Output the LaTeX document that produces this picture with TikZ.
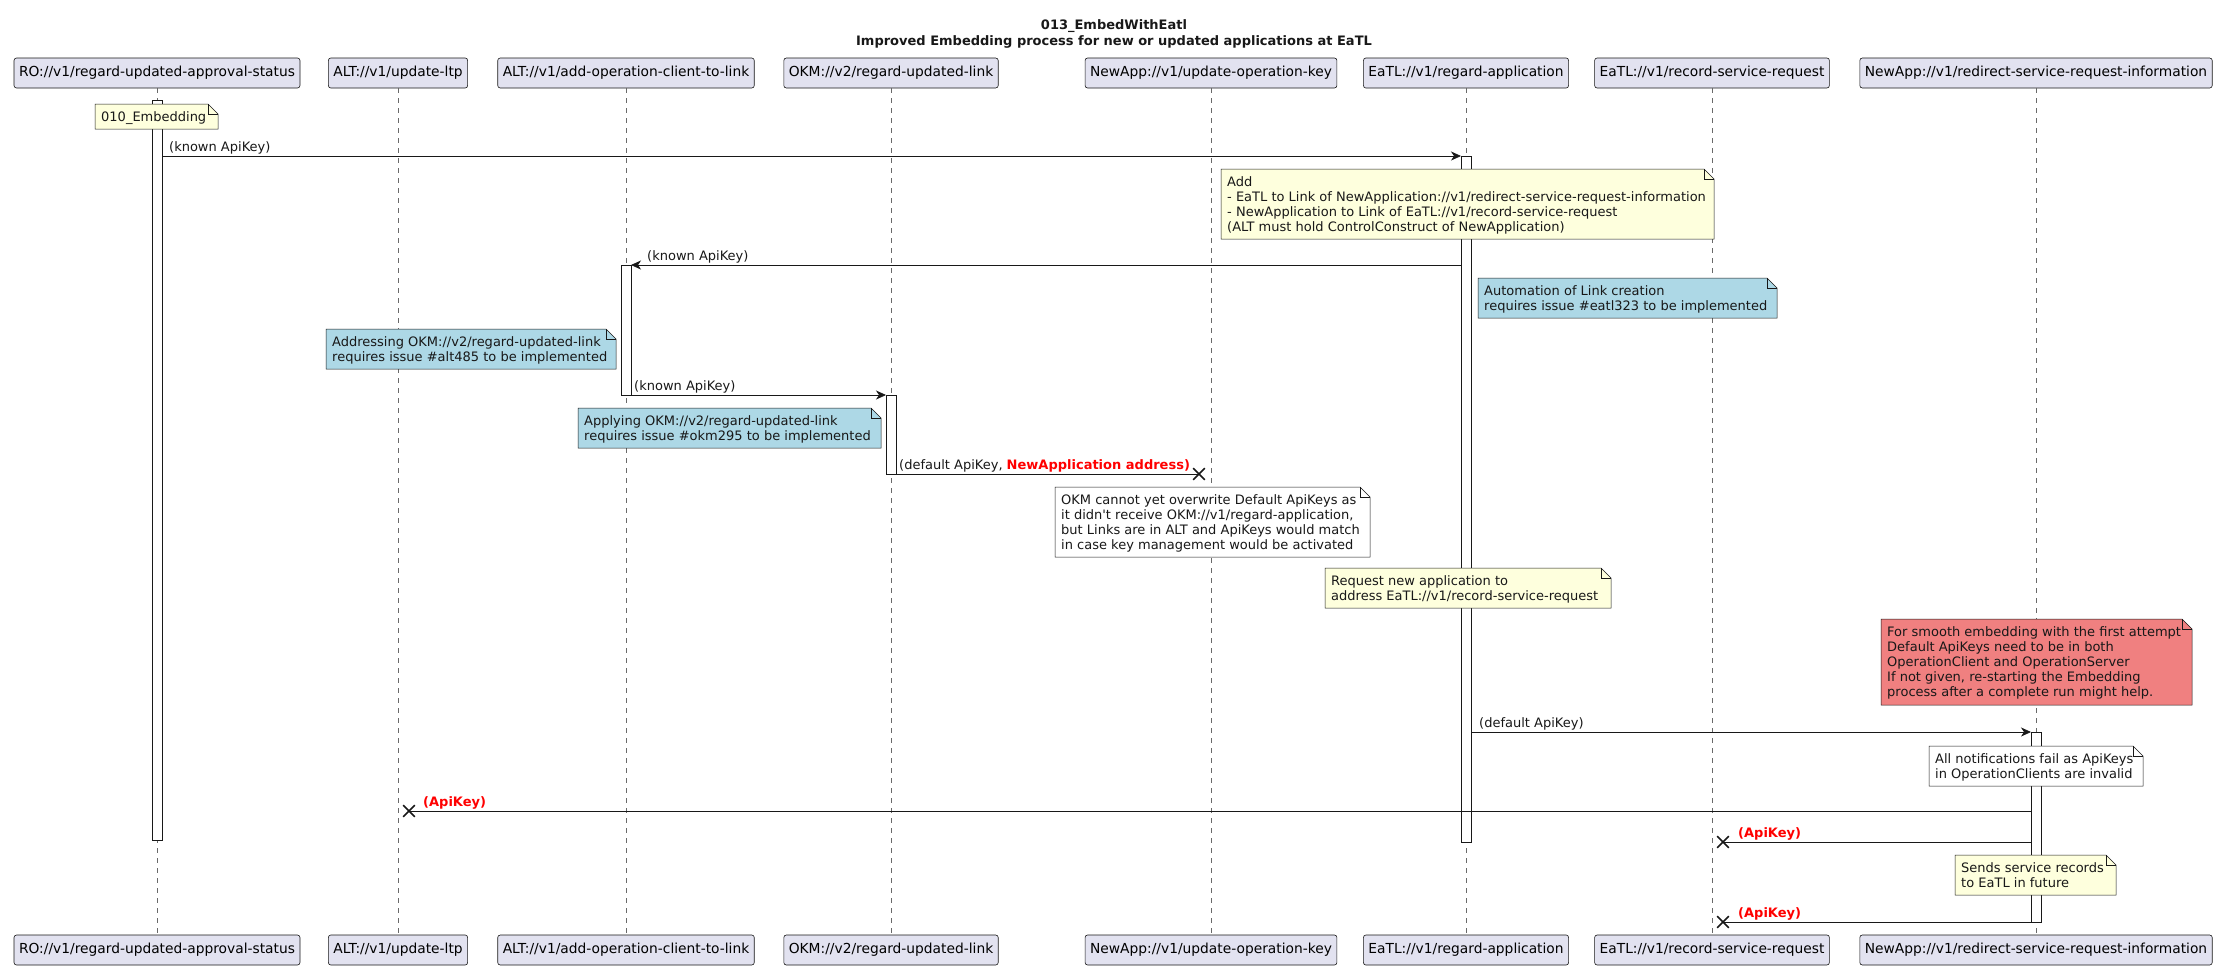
\documentclass[tikz,border=0pt]{standalone}
\usepackage{fontspec}
\setmainfont{DejaVu Sans}
\usetikzlibrary{arrows.meta,shapes.misc}
\definecolor{ink}{HTML}{181818}
\definecolor{partfill}{HTML}{E2E2F0}
\definecolor{noteyellow}{HTML}{FEFFDD}
\definecolor{noteblue}{HTML}{ADD8E6}
\definecolor{notered}{HTML}{F08080}
\definecolor{msgred}{HTML}{FF0000}
\tikzset{
  part/.style={draw=ink, line width=0.6pt, fill=partfill, rounded corners=2.5pt,
    minimum height=30pt, inner xsep=5pt, inner ysep=0pt, font=\fontsize{13.8}{15}\selectfont},
  lifeline/.style={draw=ink!65, line width=0.6pt, dash pattern=on 5pt off 5pt},
  actbar/.style={draw=ink, fill=white, line width=0.8pt, minimum width=10pt, inner sep=0pt},
  msg/.style={draw=ink, line width=0.8pt, -{Stealth[length=10pt,width=9pt,inset=3pt]}},
  lostmsg/.style={draw=ink, line width=0.8pt},
  xmark/.style={cross out, draw=ink, line width=1.6pt, minimum size=10pt, inner sep=0pt},
  lbl/.style={font=\fontsize{13}{15}\selectfont, inner sep=0pt, anchor=base west, text=ink},
  redlbl/.style={font=\bfseries\fontsize{13}{15}\selectfont, inner sep=0pt, anchor=base west, text=msgred},
  notebox/.style={draw=ink, line width=0.5pt},
  notetext/.style={font=\fontsize{13}{15}\selectfont, align=left, inner sep=0pt, anchor=north west, text=ink}
}
\newcommand\umlnote[7]{%
  \path[notebox, fill=#6] (#2,#3) -- (#4-10,#3) -- (#4,#3+10) -- (#4,#5) -- (#2,#5) -- cycle;
  \draw[notebox] (#4-10,#3) -- (#4-10,#3+10) -- (#4,#3+10);
  \node[notetext] (#1) at (#2+6,#3+5) {\rule{0pt}{12pt}#7};
}
\begin{document}
\begin{tikzpicture}[x=1pt,y=-1pt]
\path[use as bounding box, fill=white] (0,0) rectangle (2229,970);

% title
\node[font=\bfseries\fontsize{13}{16}\selectfont, align=center, inner sep=0pt, text=ink] (title) at (1114,33.5)
  {013\_EmbedWithEatl\\Improved Embedding process for new or updated applications at EaTL};

% participants
\node[part] (roT)  at (157,73)  {RO://v1/regard-updated-approval-status};
\node[part] (roB)  at (157,950) {RO://v1/regard-updated-approval-status};
\node[part] (ltpT) at (398,73)  {ALT://v1/update-ltp};
\node[part] (ltpB) at (398,950) {ALT://v1/update-ltp};
\node[part] (addT) at (626,73)  {ALT://v1/add-operation-client-to-link};
\node[part] (addB) at (626,950) {ALT://v1/add-operation-client-to-link};
\node[part] (okmT) at (891,73)  {OKM://v2/regard-updated-link};
\node[part] (okmB) at (891,950) {OKM://v2/regard-updated-link};
\node[part] (keyT) at (1211,73)  {NewApp://v1/update-operation-key};
\node[part] (keyB) at (1211,950) {NewApp://v1/update-operation-key};
\node[part] (regT) at (1466,73)  {EaTL://v1/regard-application};
\node[part] (regB) at (1466,950) {EaTL://v1/regard-application};
\node[part] (recT) at (1712,73)  {EaTL://v1/record-service-request};
\node[part] (recB) at (1712,950) {EaTL://v1/record-service-request};
\node[part] (redT) at (2036,73)  {NewApp://v1/redirect-service-request-information};
\node[part] (redB) at (2036,950) {NewApp://v1/redirect-service-request-information};

% lifelines
\draw[lifeline] (roT.south) -- (roB.north);
\draw[lifeline] (ltpT.south) -- (ltpB.north);
\draw[lifeline] (addT.south) -- (addB.north);
\draw[lifeline] (okmT.south) -- (okmB.north);
\draw[lifeline] (keyT.south) -- (keyB.north);
\draw[lifeline] (regT.south) -- (regB.north);
\draw[lifeline] (recT.south) -- (recB.north);
\draw[lifeline] (redT.south) -- (redB.north);

% activation bars
\node[actbar, minimum height=740pt] (roAct)  at (157,470) {};
\node[actbar, minimum height=686pt] (regAct) at (1466,499) {};
\node[actbar, minimum height=130pt] (addAct) at (626,330) {};
\node[actbar, minimum height=79pt]  (okmAct) at (891,434.5) {};
\node[actbar, minimum height=190pt] (redAct) at (2036,827) {};

% notes
\umlnote{n1}{95}{104}{218}{129}{noteyellow}{010\_Embedding}
\umlnote{n2}{1221}{169}{1714}{239}{noteyellow}{Add\\- EaTL to Link of NewApplication://v1/redirect-service-request-information\\- NewApplication to Link of EaTL://v1/record-service-request\\(ALT must hold ControlConstruct of NewApplication)}
\umlnote{n3}{1478}{278}{1777}{318}{noteblue}{Automation of Link creation\\requires issue \#eatl323 to be implemented}
\umlnote{n4}{326}{329}{616}{369}{noteblue}{Addressing OKM://v2/regard-updated-link\\requires issue \#alt485 to be implemented}
\umlnote{n5}{578}{408}{881}{448}{noteblue}{Applying OKM://v2/regard-updated-link\\requires issue \#okm295 to be implemented}
\umlnote{n6}{1055}{487}{1370}{557}{white}{OKM cannot yet overwrite Default ApiKeys as\\it didn\textquotesingle t receive OKM://v1/regard-application,\\but Links are in ALT and ApiKeys would match\\in case key management would be activated}
\umlnote{n7}{1325}{568}{1611}{608}{noteyellow}{Request new application to\\address EaTL://v1/record-service-request}
\umlnote{n8}{1881}{619}{2192}{705}{notered}{For smooth embedding with the first attempt\\Default ApiKeys need to be in both\\OperationClient and OperationServer\\If not given, re-starting the Embedding\\process after a complete run might help.}
\umlnote{n9}{1929}{746}{2143}{786}{white}{All notifications fail as ApiKeys\\in OperationClients are invalid}
\umlnote{n10}{1955}{855}{2116}{895}{noteyellow}{Sends service records\\to EaTL in future}

% message end points
\coordinate (m1s) at (162,156);  \coordinate (m1e) at (1461,156);
\coordinate (m2s) at (1461,265); \coordinate (m2e) at (631,265);
\coordinate (m3s) at (631,395);  \coordinate (m3e) at (886,395);
\coordinate (m4s) at (896,474);
\coordinate (m5s) at (1471,732); \coordinate (m5e) at (2031,732);
\coordinate (m6s) at (2031,811);
\coordinate (m7s) at (2031,842);
\coordinate (m8s) at (2031,922);

% lost-message crosses
\node[xmark] (x4) at (1199,474) {};
\node[xmark] (x6) at (409,811) {};
\node[xmark] (x7) at (1723,842) {};
\node[xmark] (x8) at (1723,922) {};

% messages
\draw[msg] (m1s) -- (m1e);
\node[lbl] (l1) at (169,151) {(known ApiKey)};
\draw[msg] (m2s) -- (m2e);
\node[lbl] (l2) at (647,260) {(known ApiKey)};
\draw[msg] (m3s) -- (m3e);
\node[lbl] (l3) at (634,390) {(known ApiKey)};
\draw[lostmsg] (m4s) -- (x4.center);
\node[lbl] (l4) at (899,469) {(default ApiKey, \textcolor{msgred}{\bfseries NewApplication address)}};
\draw[msg] (m5s) -- (m5e);
\node[lbl] (l5) at (1479,727) {(default ApiKey)};
\draw[lostmsg] (m6s) -- (x6.center);
\node[redlbl] (l6) at (423,806) {(ApiKey)};
\draw[lostmsg] (m7s) -- (x7.center);
\node[redlbl] (l7) at (1738,837) {(ApiKey)};
\draw[lostmsg] (m8s) -- (x8.center);
\node[redlbl] (l8) at (1738,917) {(ApiKey)};
\end{tikzpicture}
\end{document}
